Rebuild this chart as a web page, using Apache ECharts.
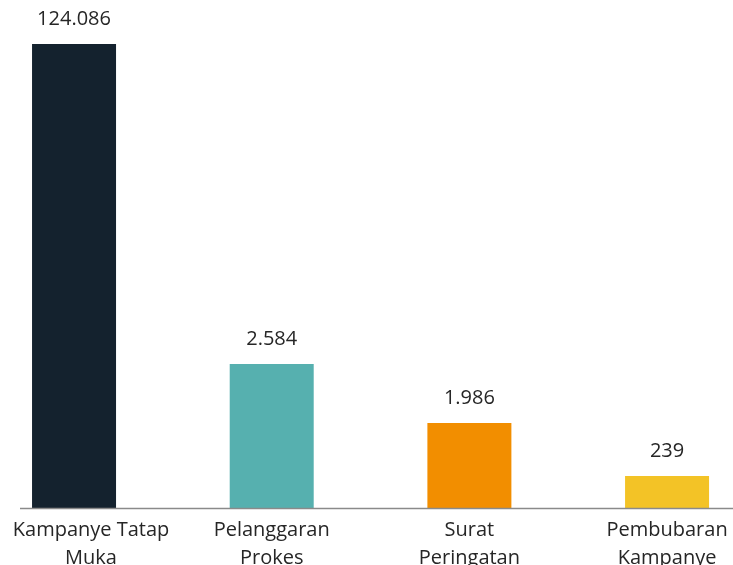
<!DOCTYPE html>
<html>
<head>
<meta charset="utf-8">
<script src="https://cdn.jsdelivr.net/npm/echarts@6/dist/echarts.min.js"></script>
<style>
  html, body { margin: 0; padding: 0; background: #ffffff; }
  #chart { width: 733px; height: 565px; }
</style>
</head>
<body>
<div id="chart"></div>
<script>
// Categories (axis labels)
var categories = ['Kampanye Tatap\nMuka', 'Pelanggaran\nProkes', 'Surat\nPeringatan', 'Pembubaran\nKampanye'];
// Values printed above bars (as shown in the reference)
var valueLabels = ['124.086', '2.584', '1.986', '239'];
// Bar heights as drawn in the reference (the original chart is not to scale)
var plottedHeights = [464, 144, 85, 32];
var barColors = ['#14222e', '#56b0af', '#f28e00', '#f3c326'];

var chart = echarts.init(document.getElementById('chart'), null, { renderer: 'canvas' });
var FONT = '"Open Sans", sans-serif';

var categoryData = categories.map(function (c, i) {
  // first label is nudged right so it stays inside the picture, like the reference
  return i === 0 ? { value: c, textStyle: { padding: [0, 0, 0, 34] } } : c;
});

chart.setOption({
  animation: false,
  grid: { left: -24.8, right: -32.9, top: 44, bottom: 57, containLabel: false, outerBoundsMode: 'none' },
  xAxis: {
    type: 'category',
    data: categoryData,
    axisLine: { show: false },
    axisTick: { show: false },
    axisLabel: {
      interval: 0,
      color: '#262626',
      fontFamily: FONT,
      fontSize: 20,
      lineHeight: 28,
      margin: 8
    }
  },
  yAxis: {
    type: 'value',
    min: 0,
    max: 464,
    show: false,
    splitLine: { show: false }
  },
  graphic: [{
    type: 'line',
    shape: { x1: 20, y1: 508.5, x2: 733, y2: 508.5 },
    style: { stroke: '#8a8a8a', lineWidth: 1.5 },
    z: 10
  }],
  series: [{
    type: 'bar',
    barWidth: 84,
    data: plottedHeights.map(function (h, i) {
      return { value: h, itemStyle: { color: barColors[i] } };
    }),
    label: {
      show: true,
      position: 'top',
      distance: 15,
      color: '#262626',
      fontFamily: FONT,
      fontSize: 20,
      formatter: function (p) { return valueLabels[p.dataIndex]; }
    }
  }]
});
</script>
</body>
</html>
